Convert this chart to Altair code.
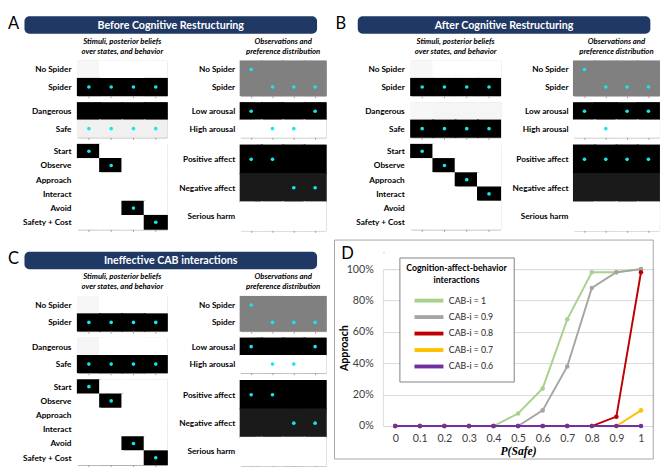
import altair as alt
import pandas as pd

FONT = "Lato"
NAVY = "#203864"
CYAN = "#14e6f2"
EDGE = "#9c9c9c"

# ---------------- heat-map panels (A, B, C) ----------------
TIMES = [1, 2, 3, 4]
STIM_STATES = ["No Spider", "Spider"]
THREAT_STATES = ["Dangerous", "Safe"]
ACTIONS = ["Start", "Observe", "Approach", "Interact", "Avoid", "Safety + Cost"]
OBS_STIM = ["No Spider", "Spider"]
AROUSAL = ["Low arousal", "High arousal"]
AFFECT = ["Positive affect", "Negative affect", "Serious harm"]
SUB_LEFT = ["Stimuli, posterior beliefs", "over states, and behavior"]
SUB_RIGHT = ["Observations and", "preference distribution"]

PREF_STIM = [[0.5, 0.5, 0.5, 0.5], [0.5, 0.5, 0.5, 0.5]]
PREF_AROUSAL = [[1, 1, 1, 1], [0, 0, 0, 0]]
PREF_AFFECT = [[1, 1, 1, 1], [0.9, 0.9, 0.9, 0.9], [0, 0, 0, 0]]

A_TITLE = "Before Cognitive Restructuring"
A_STIM = [[0.03, 0, 0, 0], [1, 1, 1, 1]]
A_THREAT = [[1, 1, 1, 1], [0.06, 0.06, 0.06, 0.06]]
A_ACT = [[1, 0, 0, 0], [0, 1, 0, 0], [0, 0, 0, 0], [0, 0, 0, 0], [0, 0, 1, 0], [0, 0, 0, 1]]
A_DOTS_STIM = [1, 1, 1, 1]
A_DOTS_THREAT = [1, 1, 1, 1]
A_DOTS_ACT = [0, 1, 4, 5]
A_DOTS_OBS = [0, 1, 1, 1]
A_DOTS_AROUSAL = [0, 1, 1, 0]
A_DOTS_AFFECT = [0, 0, 1, 1]

B_TITLE = "After Cognitive Restructuring"
B_STIM = [[0.03, 0, 0, 0], [1, 1, 1, 1]]
B_THREAT = [[0.03, 0.04, 0.04, 0.04], [1, 1, 1, 1]]
B_ACT = [[1, 0, 0, 0], [0, 1, 0, 0], [0, 0, 1, 0], [0, 0, 0, 1], [0, 0, 0, 0], [0, 0, 0, 0]]
B_DOTS_STIM = [1, 1, 1, 1]
B_DOTS_THREAT = [1, 1, 1, 1]
B_DOTS_ACT = [0, 1, 2, 3]
B_DOTS_OBS = [0, 1, 1, 1]
B_DOTS_AROUSAL = [0, 1, 0, 0]
B_DOTS_AFFECT = [0, 0, 0, 0]

C_TITLE = "Ineffective CAB interactions"
C_STIM = [[0.03, 0, 0, 0], [1, 1, 1, 1]]
C_THREAT = [[0.04, 0, 0, 0], [1, 1, 1, 1]]
C_ACT = [[1, 0, 0, 0], [0, 1, 0, 0], [0, 0, 0, 0], [0, 0, 0, 0], [0, 0, 1, 0], [0, 0, 0, 1]]
C_DOTS_STIM = [1, 1, 1, 1]
C_DOTS_THREAT = [1, 1, 1, 1]
C_DOTS_ACT = [0, 1, 4, 5]
C_DOTS_OBS = [0, 1, 1, 1]
C_DOTS_AROUSAL = [0, 1, 1, 0]
C_DOTS_AFFECT = [0, 0, 1, 1]

# ---------------- line chart (D) ----------------
X_LABELS = ["0", "0.1", "0.2", "0.3", "0.4", "0.5", "0.6", "0.7", "0.8", "0.9", "1"]
SERIES = ["CAB-i = 1", "CAB-i = 0.9", "CAB-i = 0.8", "CAB-i = 0.7", "CAB-i = 0.6"]
COLORS = ["#a9d18e", "#a5a5a5", "#c00000", "#ffc000", "#7030a0"]
APPROACH = [
    [0, 0, 0, 0, 0, 0.08, 0.24, 0.68, 0.98, 0.98, 1.0],
    [0, 0, 0, 0, 0, 0, 0.10, 0.38, 0.88, 0.98, 1.0],
    [0, 0, 0, 0, 0, 0, 0, 0, 0, 0.06, 0.98],
    [0, 0, 0, 0, 0, 0, 0, 0, 0, 0, 0.10],
    [0, 0, 0, 0, 0, 0, 0, 0, 0, 0, 0],
]
Y_TICKS = [0, 0.2, 0.4, 0.6, 0.8, 1.0]

# ---------------- sizes ----------------
LW, RW = 92, 88
LEXT, REXT = 55, 60
H2, H6 = 36, 88
HEAD_H = 18
HEAD_W = LEXT + LW + 9 + REXT + RW - 2
DW, DH = 279, 162


def heat(states, mat, dots, w, h, ext, pad, title=None):
    rows = []
    for i, s in enumerate(states):
        for j, t in enumerate(TIMES):
            rows.append({"s": s, "t": t, "p": mat[i][j], "dot": 1 if dots[j] == i else 0})
    df = pd.DataFrame(rows)
    x = alt.X("t:O", scale=alt.Scale(paddingInner=0, paddingOuter=0),
              axis=alt.Axis(labels=False, title=None, domain=False, ticks=True, grid=False,
                            tickSize=2, tickColor=EDGE))
    y = alt.Y("s:N", sort=states, scale=alt.Scale(paddingInner=0, paddingOuter=0),
              axis=alt.Axis(title=None, domain=False, ticks=False, grid=False, labelFont=FONT,
                            labelFontWeight="bold", labelFontSize=8.5, labelColor="black",
                            labelPadding=pad, minExtent=ext, maxExtent=ext))
    gray = alt.Scale(domain=[0, 1], range=["#ffffff", "#000000"], interpolate="rgb")
    base = alt.Chart(df)
    rect = base.mark_rect(width=alt.RelativeBandSize(1.08),
                          height=alt.RelativeBandSize(1.04)).encode(
        x=x, y=y, fill=alt.Fill("p:Q", scale=gray, legend=None))
    dot = base.transform_filter("datum.dot == 1").mark_circle(
        size=14, color=CYAN, opacity=1).encode(x=x, y=y)
    ch = alt.layer(rect, dot).properties(
        width=w, height=h, view=alt.ViewBackground(stroke=EDGE, strokeWidth=1))
    if title:
        ch = ch.properties(title=alt.TitleParams(
            text=title, anchor="middle", frame="group", font=FONT, fontSize=8,
            fontStyle="italic", fontWeight="bold", color="black", lineHeight=10, offset=5))
    return ch


def header(text):
    w = HEAD_W - LEXT
    src = alt.Chart(pd.DataFrame({"t": [text]}))
    bar = src.mark_rect(color=NAVY, cornerRadius=5).encode(
        x=alt.value(-LEXT), x2=alt.value(w), y=alt.value(0), y2=alt.value(HEAD_H))
    txt = src.mark_text(color="white", font=FONT, fontWeight="bold", fontSize=11,
                        baseline="middle", align="center").encode(
        text="t:N", x=alt.value(HEAD_W / 2 - LEXT), y=alt.value(HEAD_H / 2 + 1))
    return alt.layer(bar, txt).properties(width=w, height=HEAD_H,
                                          view=alt.ViewBackground(strokeWidth=0))


def letter(l):
    return alt.Chart(pd.DataFrame({"l": [l]})).mark_text(
        font=FONT, fontSize=17, align="left", baseline="top", color="black").encode(
        text="l:N", x=alt.value(0), y=alt.value(0)).properties(
        width=12, height=HEAD_H, view=alt.ViewBackground(strokeWidth=0))


def panel(l, title, stim, threat, act, d_stim, d_threat, d_act, d_obs, d_ar, d_aff, gap):
    left = alt.vconcat(
        heat(STIM_STATES, stim, d_stim, LW, H2, LEXT, 7, SUB_LEFT),
        heat(THREAT_STATES, threat, d_threat, LW, H2, LEXT, 7),
        heat(ACTIONS, act, d_act, LW, H6, LEXT, 7),
        spacing=3)
    right = alt.vconcat(
        heat(OBS_STIM, PREF_STIM, d_obs, RW, H2, REXT, 6, SUB_RIGHT),
        heat(AROUSAL, PREF_AROUSAL, d_ar, RW, H2, REXT, 6),
        heat(AFFECT, PREF_AFFECT, d_aff, RW, H6, REXT, 6),
        spacing=3)
    cols = alt.hconcat(left, right, spacing=9)
    body = alt.vconcat(header(title), cols, spacing=4)
    return alt.hconcat(letter(l), body, spacing=gap)


panel_a = panel("A", A_TITLE, A_STIM, A_THREAT, A_ACT, A_DOTS_STIM, A_DOTS_THREAT,
                A_DOTS_ACT, A_DOTS_OBS, A_DOTS_AROUSAL, A_DOTS_AFFECT, 2)
panel_b = panel("B", B_TITLE, B_STIM, B_THREAT, B_ACT, B_DOTS_STIM, B_DOTS_THREAT,
                B_DOTS_ACT, B_DOTS_OBS, B_DOTS_AROUSAL, B_DOTS_AFFECT, 8)
panel_c = panel("C", C_TITLE, C_STIM, C_THREAT, C_ACT, C_DOTS_STIM, C_DOTS_THREAT,
                C_DOTS_ACT, C_DOTS_OBS, C_DOTS_AROUSAL, C_DOTS_AFFECT, 2)

# ---------------- panel D ----------------
rows = []
for s, vals in zip(SERIES, APPROACH):
    for xl, v in zip(X_LABELS, vals):
        rows.append({"x": xl, "series": s, "v": v})
ddf = pd.DataFrame(rows)

xenc = alt.X("x:O", sort=X_LABELS, scale=alt.Scale(padding=0.5),
             axis=alt.Axis(labelAngle=0, ticks=False, domain=False, grid=False,
                           labelFont=FONT, labelFontSize=11, labelColor="#404040",
                           labelPadding=7, title="P(Safe)", titleFont="Liberation Serif",
                           titleFontStyle="italic", titleFontWeight="bold", titleFontSize=12,
                           titlePadding=2, titleColor="black"))
yenc = alt.Y("v:Q", scale=alt.Scale(domain=[0, 1]),
             axis=alt.Axis(values=Y_TICKS, format=".0%", grid=True, gridColor="#d9d9d9",
                           domain=False, ticks=False, labelFont=FONT, labelFontSize=11,
                           labelColor="#404040", labelPadding=10, title="Approach",
                           titleFont=FONT, titleFontWeight="bold", titleFontSize=11,
                           titleColor="black", titleX=-40, titleY=DH / 2, titleAngle=-90,
                           titleAlign="center", titleBaseline="middle"))
legend = alt.Legend(
    title=["Cognition-affect-behavior", "interactions"], orient="none",
    legendX=17, legendY=-12, direction="vertical",
    fillColor="white", strokeColor="#7f7f7f", padding=7,
    titleFont=FONT, titleFontSize=9, titleFontWeight="bold", titleColor="black",
    titleAlign="center", titleAnchor="middle", titleLineHeight=12, titlePadding=8,
    labelFont=FONT, labelFontSize=9, labelColor="#262626", labelOffset=12,
    symbolType="M-2.3,0H2.3", symbolSize=169, symbolStrokeWidth=4, rowPadding=0)
cenc = alt.Color("series:N", scale=alt.Scale(domain=SERIES, range=COLORS), legend=legend)

border = alt.Chart(pd.DataFrame({"a": [0]})).mark_rect(
    fillOpacity=0, stroke="#a6a6a6", strokeWidth=1).encode(
    x=alt.value(-50), x2=alt.value(DW), y=alt.value(-30), y2=alt.value(DH + 34))
dlabel = alt.Chart(pd.DataFrame({"l": ["D"]})).mark_text(
    font=FONT, fontSize=17, align="left", baseline="top", color="black").encode(
    text="l:N", x=alt.value(-43), y=alt.value(-23))

layers = [border, dlabel]
base = alt.Chart(ddf)
for s, c in zip(SERIES, COLORS):
    sub = base.transform_filter(alt.datum.series == s)
    layers.append(sub.mark_line(strokeWidth=2).encode(x=xenc, y=yenc, color=cenc))
    layers.append(sub.mark_circle(size=22, opacity=1).encode(x=xenc, y=yenc, color=alt.value(c)))
d_layer = alt.layer(*layers).properties(width=DW, height=DH)

spacer = alt.Chart(pd.DataFrame({"a": [0]})).mark_point(size=0, opacity=0).encode(
    x=alt.value(0), y=alt.value(0)).properties(width=1, height=1)
panel_d = alt.vconcat(spacer, d_layer, spacing=-15).resolve_scale(color="independent")

row1 = alt.hconcat(panel_a, panel_b, spacing=8)
row2 = alt.hconcat(panel_c, panel_d, spacing=6).resolve_scale(color="independent")
chart = alt.vconcat(row1, row2, spacing=6).resolve_scale(color="independent").properties(
    padding=0).configure_view(strokeWidth=0).configure(font=FONT)

chart.save("out.html", embed_options={"renderer": "svg", "actions": False})
